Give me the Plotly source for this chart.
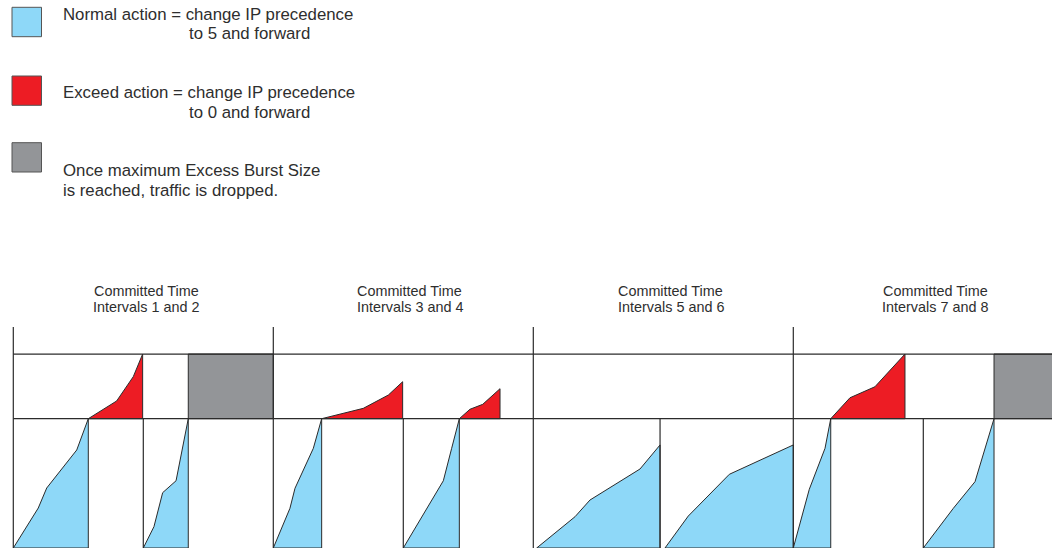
import plotly.graph_objects as go

# ---------------- data (t in committed intervals Tc, level in units of Bc) ----------------
PAIR_BOUNDS = [0, 2, 4, 6, 8]          # start of each pair of committed intervals
INTERVAL_BOUNDS = [1, 3, 4.975, 7]     # boundary between the two intervals of a pair
BC_LEVEL = 1.0                         # committed burst
BE_LEVEL = 1.5                         # excess burst
FRAME_TOP = 1.71

normal_t = [
    [0.0, 0.192, 0.257, 0.488, 0.577],
    [1.0, 1.082, 1.149, 1.252, 1.346],
    [2.0, 2.128, 2.167, 2.308, 2.372],
    [3.0, 3.154, 3.308, 3.372, 3.431],
    [4.026, 4.321, 4.436, 4.821, 4.975],
    [5.013, 5.192, 5.508, 6.0],
    [6.0, 6.123, 6.244, 6.288],
    [7.0, 7.231, 7.398, 7.544],
]
normal_level = [
    [0.0, 0.309, 0.464, 0.758, 1.0],
    [0.0, 0.165, 0.428, 0.520, 1.0],
    [0.0, 0.307, 0.462, 0.771, 1.0],
    [0.0, 0.255, 0.520, 0.771, 1.0],
    [0.0, 0.242, 0.371, 0.611, 0.797],
    [0.0, 0.247, 0.570, 0.797],
    [0.0, 0.454, 0.771, 1.0],
    [0.0, 0.307, 0.513, 1.0],
]
exceed_t = [
    [0.577, 0.795, 0.923, 0.995],
    [2.372, 2.692, 2.885, 2.995],
    [3.431, 3.513, 3.611, 3.744],
    [6.288, 6.436, 6.628, 6.859],
]
exceed_level = [
    [1.0, 1.137, 1.325, 1.5],
    [1.0, 1.080, 1.183, 1.286],
    [1.0, 1.073, 1.111, 1.232],
    [1.0, 1.162, 1.247, 1.5],
]
drop_start = [1.346, 7.544]
drop_end = [2.0, 8.0]

pair_label_line1 = ["Committed Time"] * 4
pair_label_line2 = ["Intervals 1 and 2", "Intervals 3 and 4",
                    "Intervals 5 and 6", "Intervals 7 and 8"]

legend_colors = ["#8ED8F8", "#ED1C24", "#939598"]
legend_lines = [
    ["Normal action = change IP precedence", "to 5 and forward"],
    ["Exceed action = change IP precedence", "to 0 and forward"],
    ["Once maximum Excess Burst Size", "is reached, traffic is dropped."],
]

# ---------------- layout constants ----------------
W, H = 1052, 548
X_RANGE = [-0.1023, 7.990]
Y_RANGE = [0.0, 4.238]
BLUE, RED, GRAY = legend_colors
EDGE = "#2b2b2b"
TEXT = "#2e2e2e"
FONT = "Liberation Sans, Arial, sans-serif"

def px(x):
    return x / W

def py(y):
    return 1 - y / H

fig = go.Figure()

def poly(xs, ys, fill):
    fig.add_trace(go.Scatter(x=xs, y=ys, mode="lines", fill="toself",
                             fillcolor=fill, line=dict(color=EDGE, width=1),
                             hoverinfo="skip", showlegend=False))

# normal traffic (blue)
for ts, ls in zip(normal_t, normal_level):
    poly(ts + [ts[-1], ts[0]], ls + [0.0, 0.0], BLUE)

# exceed traffic (red)
for ts, ls in zip(exceed_t, exceed_level):
    poly(ts + [ts[-1], ts[0]], ls + [BC_LEVEL, BC_LEVEL], RED)

# dropped traffic (gray)
for a, b in zip(drop_start, drop_end):
    poly([a, b, b, a, a], [BC_LEVEL, BC_LEVEL, BE_LEVEL, BE_LEVEL, BC_LEVEL], GRAY)

# frame lines
lx, ly = [], []
for b in PAIR_BOUNDS:
    lx += [b, b, None]
    ly += [0, FRAME_TOP, None]
for b in INTERVAL_BOUNDS:
    lx += [b, b, None]
    ly += [0, BC_LEVEL, None]
for lev in (BC_LEVEL, BE_LEVEL):
    lx += [PAIR_BOUNDS[0], PAIR_BOUNDS[-1], None]
    ly += [lev, lev, None]
fig.add_trace(go.Scatter(x=lx, y=ly, mode="lines",
                         line=dict(color=EDGE, width=1.2),
                         hoverinfo="skip", showlegend=False))

annotations = []
shapes = []

# pair labels
label_x = [146.2, 409.8, 670.8, 935.2]
for x, l1, l2 in zip(label_x, pair_label_line1, pair_label_line2):
    for txt, base in ((l1, 295.7), (l2, 311.7)):
        annotations.append(dict(x=px(x), y=py(base - 0.35 * 14.4), xref="paper", yref="paper",
                                text=txt, showarrow=False, xanchor="center", yanchor="middle",
                                borderpad=0, font=dict(family=FONT, size=14.4, color=TEXT)))

# legend
box_y = [(7.3, 36.7), (76.0, 105.3), (142.7, 172.0)]
text_pos = [[(61.7, 20.0), (188.3, 39.3)],
            [(61.7, 98.3), (188.3, 118.3)],
            [(61.7, 176.7), (61.7, 196.7)]]
for col, (y0, y1), lines, poss in zip(legend_colors, box_y, legend_lines, text_pos):
    shapes.append(dict(type="rect", xref="paper", yref="paper",
                       x0=px(12.0), x1=px(41.5), y0=py(y1), y1=py(y0),
                       fillcolor=col, line=dict(color="#555555", width=1)))
    for txt, (x, base) in zip(lines, poss):
        annotations.append(dict(x=px(x), y=py(base - 0.35 * 16.8), xref="paper", yref="paper",
                                text=txt, showarrow=False, xanchor="left", yanchor="middle",
                                borderpad=0, font=dict(family=FONT, size=16.8, color=TEXT)))

fig.update_layout(
    width=W, height=H,
    margin=dict(l=0, r=0, t=0, b=0),
    paper_bgcolor="white", plot_bgcolor="white",
    xaxis=dict(range=X_RANGE, visible=False, fixedrange=True),
    yaxis=dict(range=Y_RANGE, visible=False, fixedrange=True),
    annotations=annotations, shapes=shapes,
    showlegend=False,
)

fig.write_html("out.html",
               config={"displayModeBar": False, "staticPlot": True},
               post_script="document.body.style.margin='0';document.body.style.overflow='hidden';")
